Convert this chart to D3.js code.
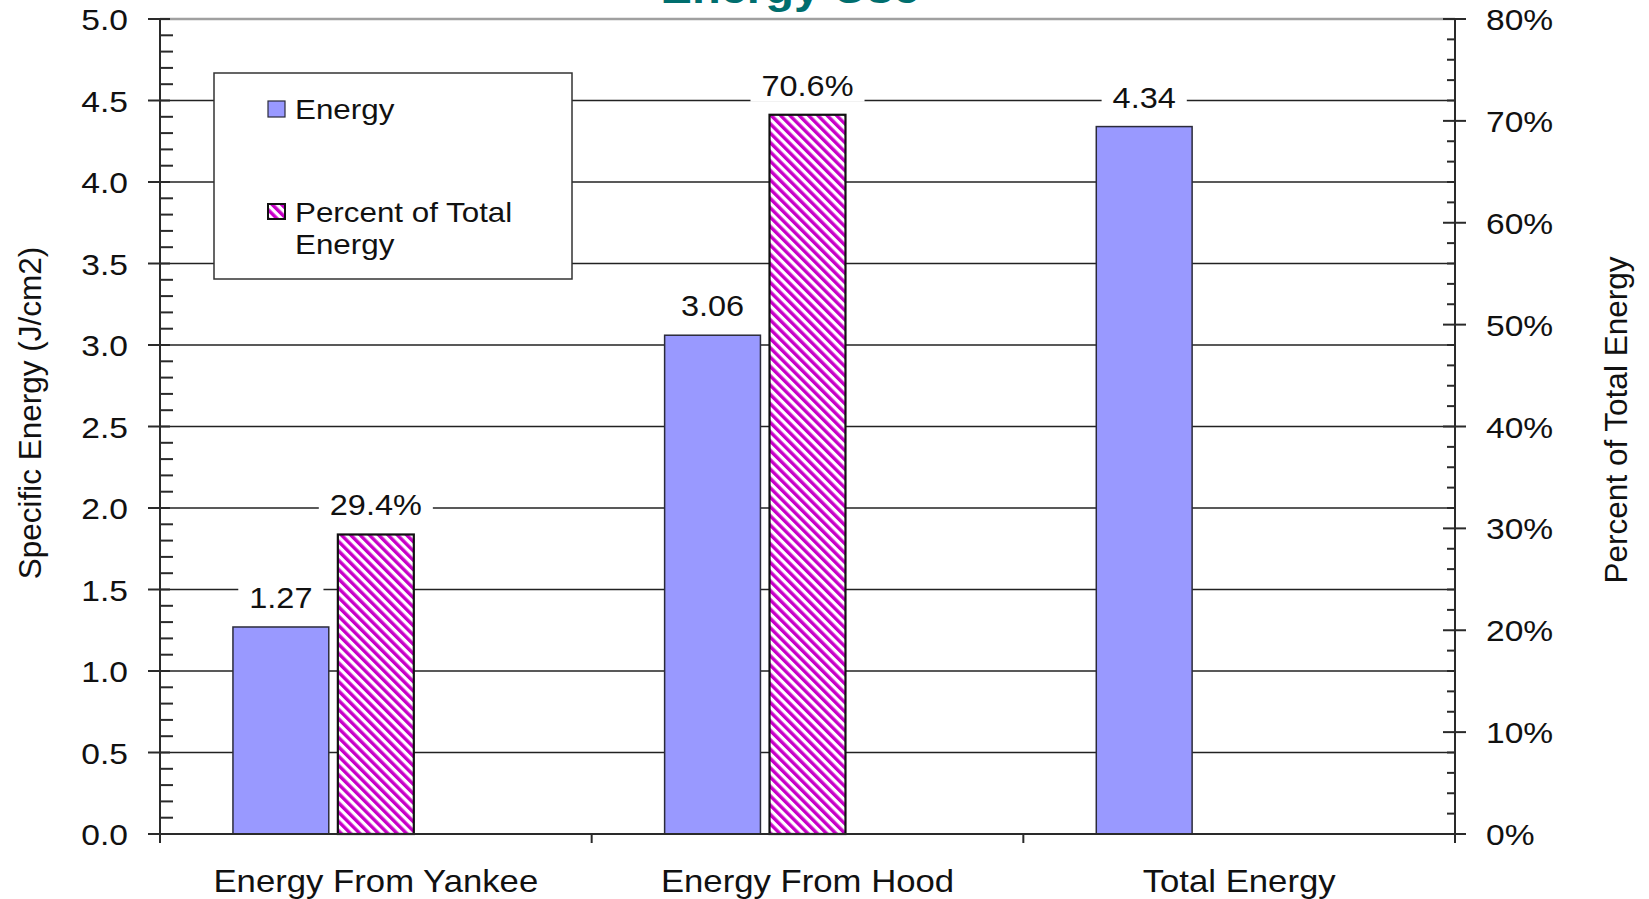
<!DOCTYPE html>
<html>
<head>
<meta charset="utf-8">
<script src="https://cdn.jsdelivr.net/npm/d3@7"></script>
<style>
  html, body { margin: 0; padding: 0; background: #fff; overflow: hidden; }
  svg { display: block; font-family: "Liberation Sans", Arial, sans-serif; }
</style>
</head>
<body>
<svg id="chart" width="1649" height="899"></svg>
<script>
// ---- data ----
const categories = ["Energy From Yankee", "Energy From Hood", "Total Energy"];
const energyValues = [1.27, 3.06, 4.34];           // J/cm2
const percentValues = [0.294, 0.706, null];        // share of total energy
const energyLabels = ["1.27", "3.06", "4.34"];
const percentLabels = ["29.4%", "70.6%", null];
const leftTicks = [0, 0.5, 1, 1.5, 2, 2.5, 3, 3.5, 4, 4.5, 5];
const rightTicks = [0, 0.1, 0.2, 0.3, 0.4, 0.5, 0.6, 0.7, 0.8];
const legendItems = ["Energy", "Percent of Total Energy"];

// ---- layout ----
const svg = d3.select("#chart");
const plot = { left: 160, right: 1455, top: 19, bottom: 834 };
const SX = 1.12;                       // horizontal text stretch
const ink = "#111";
const axisColor = "#2a2a2a";
const energyFill = "#9999FF";
const hatchColor = "#C800C8";

const x = d3.scaleBand().domain(categories).range([plot.left, plot.right]).padding(0);
const yL = d3.scaleLinear().domain([0, 5]).range([plot.bottom, plot.top]);
const yR = d3.scaleLinear().domain([0, 0.8]).range([plot.bottom, plot.top]);
const bw = x.bandwidth();

// bar placement inside each category band
const eBar = { off: 0.169, w: 0.222 };
const pBar = { off: 0.412, w: 0.176 };

// hatch pattern for the percent series
const defs = svg.append("defs");
const pat = defs.append("pattern")
  .attr("id", "hatch").attr("patternUnits", "userSpaceOnUse")
  .attr("width", 6.6).attr("height", 6.6)
  .attr("patternTransform", "rotate(-45)");
pat.append("rect").attr("width", 6.6).attr("height", 6.6).attr("fill", "#fff");
pat.append("rect").attr("x", 0).attr("width", 3.4).attr("height", 6.6).attr("fill", hatchColor);

function stretchedText(g, tx, ty, str, size, anchor, opts = {}) {
  return g.append("text")
    .attr("transform", `translate(${tx},${ty}) scale(${SX},1)`)
    .attr("text-anchor", anchor)
    .attr("font-size", size)
    .attr("font-weight", opts.weight || "normal")
    .attr("fill", opts.fill || ink)
    .text(str);
}

// ---- title (partially above the frame) ----
stretchedText(svg, 790, 3, "Energy Use", 42, "middle", { weight: "bold", fill: "#006E6E" });

// ---- gridlines ----
const grid = svg.append("g");
grid.selectAll("line").data(leftTicks.filter(d => d > 0))
  .join("line")
  .attr("x1", plot.left).attr("x2", plot.right)
  .attr("y1", d => yL(d)).attr("y2", d => yL(d))
  .attr("stroke", d => d === 5 ? "#a0a0a0" : "#222")
  .attr("stroke-width", d => d === 5 ? 2.5 : 1.4);

// ---- bars ----
const barsE = svg.append("g");
barsE.selectAll("rect").data(energyValues)
  .join("rect")
  .attr("x", (d, i) => x(categories[i]) + bw * eBar.off)
  .attr("width", bw * eBar.w)
  .attr("y", d => yL(d))
  .attr("height", d => yL(0) - yL(d))
  .attr("fill", energyFill)
  .attr("stroke", "#2b2b3a").attr("stroke-width", 1.5);

const barsP = svg.append("g");
barsP.selectAll("rect").data(percentValues.map((v, i) => ({ v, i })).filter(d => d.v != null))
  .join("rect")
  .attr("x", d => x(categories[d.i]) + bw * pBar.off)
  .attr("width", bw * pBar.w)
  .attr("y", d => yR(d.v))
  .attr("height", d => yR(0) - yR(d.v))
  .attr("fill", "url(#hatch)")
  .attr("stroke", "#111").attr("stroke-width", 2.2);

// ---- value labels with white backing ----
function valueLabel(cx, top, str) {
  const g = svg.append("g");
  const base = top - 19;
  const t = stretchedText(g, cx, base, str, 29, "middle");
  const w = t.node().getBBox().width * SX;
  g.insert("rect", "text")
    .attr("x", cx - w / 2 - 11).attr("width", w + 22)
    .attr("y", base - 27).attr("height", 33)
    .attr("fill", "#fff");
}
energyValues.forEach((v, i) => {
  valueLabel(x(categories[i]) + bw * (eBar.off + eBar.w / 2), yL(v), energyLabels[i]);
});
percentValues.forEach((v, i) => {
  if (v == null) return;
  valueLabel(x(categories[i]) + bw * (pBar.off + pBar.w / 2), yR(v), percentLabels[i]);
});

// ---- axes ----
const axes = svg.append("g").attr("stroke", axisColor).attr("stroke-width", 2);
// left axis
axes.append("line").attr("x1", plot.left).attr("x2", plot.left).attr("y1", plot.top).attr("y2", plot.bottom + 9);
const leftMinor = d3.range(0, 50).map(d => d / 10).filter(d => Math.round(d * 10) % 5 !== 0);
axes.selectAll(".lmin").data(leftMinor).join("line").attr("class", "lmin")
  .attr("x1", plot.left).attr("x2", plot.left + 13)
  .attr("y1", d => yL(d)).attr("y2", d => yL(d));
axes.selectAll(".lmaj").data(leftTicks).join("line").attr("class", "lmaj")
  .attr("x1", plot.left - 12).attr("x2", plot.left + 10)
  .attr("y1", d => yL(d)).attr("y2", d => yL(d));
// right axis
axes.append("line").attr("x1", plot.right).attr("x2", plot.right).attr("y1", plot.top).attr("y2", plot.bottom + 9);
const rightMinor = d3.range(0, 40).map(d => d / 50).filter((d, i) => i % 5 !== 0);
axes.selectAll(".rmin").data(rightMinor).join("line").attr("class", "rmin")
  .attr("x1", plot.right - 8).attr("x2", plot.right)
  .attr("y1", d => yR(d)).attr("y2", d => yR(d));
axes.selectAll(".rmaj").data(rightTicks).join("line").attr("class", "rmaj")
  .attr("x1", plot.right - 12).attr("x2", plot.right + 11)
  .attr("y1", d => yR(d)).attr("y2", d => yR(d));
// bottom axis
axes.append("line").attr("x1", plot.left).attr("x2", plot.right).attr("y1", plot.bottom).attr("y2", plot.bottom);
const bounds = categories.map(c => x(c)).concat([plot.right]);
axes.selectAll(".bt").data(bounds).join("line").attr("class", "bt")
  .attr("x1", d => d).attr("x2", d => d)
  .attr("y1", plot.bottom).attr("y2", plot.bottom + 9);

// tick labels
const fmtL = d3.format(".1f");
const fmtR = d3.format(".0%");
leftTicks.forEach(d => stretchedText(svg, plot.left - 32, yL(d) + 11, fmtL(d), 30, "end"));
rightTicks.forEach(d => stretchedText(svg, plot.right + 31, yR(d) + 11, fmtR(d), 30, "start"));
categories.forEach(c => stretchedText(svg, x(c) + bw / 2, 892, c, 31, "middle"));

// axis titles
svg.append("text")
  .attr("transform", `translate(41,413) rotate(-90)`)
  .attr("text-anchor", "middle").attr("font-size", 31.5).attr("fill", ink)
  .text("Specific Energy (J/cm2)");
svg.append("text")
  .attr("transform", `translate(1627,420) rotate(-90)`)
  .attr("text-anchor", "middle").attr("font-size", 31.5).attr("fill", ink)
  .text("Percent of Total Energy");

// ---- legend ----
const lg = svg.append("g");
lg.append("rect").attr("x", 214).attr("y", 73).attr("width", 358).attr("height", 206)
  .attr("fill", "#fff").attr("stroke", "#333").attr("stroke-width", 1.5);
lg.append("rect").attr("x", 268).attr("y", 101).attr("width", 17).attr("height", 16)
  .attr("fill", energyFill).attr("stroke", "#2b2b3a").attr("stroke-width", 1.2);
stretchedText(lg, 295, 119, legendItems[0], 28, "start");
lg.append("rect").attr("x", 268).attr("y", 204).attr("width", 17).attr("height", 15)
  .attr("fill", "url(#hatch)").attr("stroke", "#111").attr("stroke-width", 2);
stretchedText(lg, 295, 222, "Percent of Total", 28, "start");
stretchedText(lg, 295, 254, "Energy", 28, "start");
</script>
</body>
</html>
